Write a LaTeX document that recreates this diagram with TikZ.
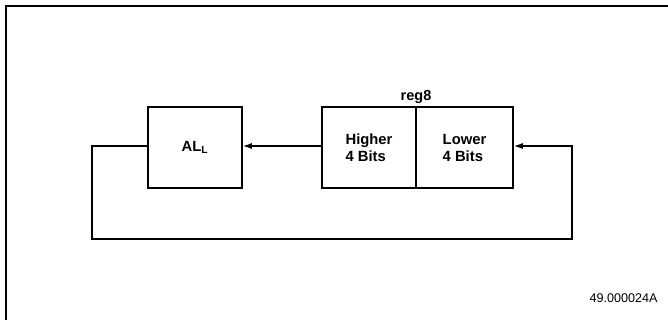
\documentclass[tikz,border=0pt]{standalone}
\usepackage{fontspec}
\setmainfont{Liberation Sans}
\usetikzlibrary{arrows.meta}
\begin{document}
\begin{tikzpicture}[x=1pt,y=-1pt,
  box/.style={draw,line width=1.6pt,inner sep=0pt,minimum height=81pt,font=\fontsize{14.8}{17}\selectfont\bfseries,align=left},
  conn/.style={line width=1.3pt,-{Latex[length=9pt,width=6pt]}},
  wire/.style={line width=1.3pt}]
\useasboundingbox (0,0) rectangle (668,320);
\draw[line width=2pt] (6,320) -- (6,6) -- (668,6);
\node[box,minimum width=94pt] (al) at (195,147.5) {AL\textsubscript{L}};
\node[box,minimum width=94pt] (hi) at (369,147.5) {Higher\\4 Bits};
\node[box,minimum width=97pt] (lo) at (464.5,147.5) {Lower\\4 Bits};
\node[font=\fontsize{14.5}{17}\selectfont\bfseries,anchor=base] (lbl) at (416,101) {reg8};
\node[font=\fontsize{12.6}{14}\selectfont,anchor=base east] (id) at (661,302) {49.000024A};
\coordinate (c1) at (92,146);
\coordinate (c2) at (92,239);
\coordinate (c3) at (572,239);
\coordinate (c4) at (572,146);
\draw[conn] (hi.west |- 0,146) -- (al.east |- 0,146);
\draw[conn] (al.west |- 0,146) -- (c1) -- (c2) -- (c3) -- (c4) -- (lo.east |- 0,146);
\end{tikzpicture}
\end{document}
